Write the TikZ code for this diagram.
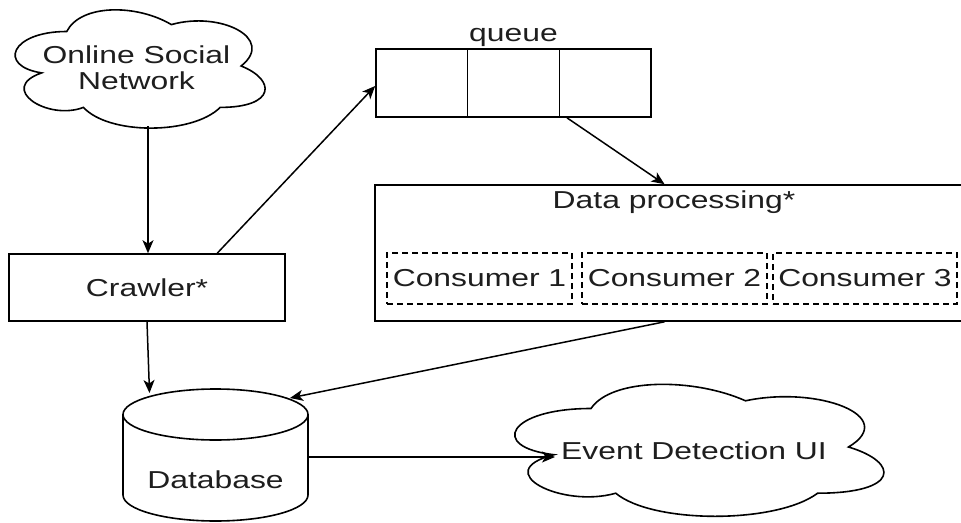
\documentclass[tikz,border=0pt]{standalone}
\usepackage{fontspec}
\setmainfont{Liberation Sans}[FakeStretch=1.3]
\usetikzlibrary{arrows.meta,calc}
\definecolor{ink}{HTML}{1E1E1E}

% draw.io style cloud outline in the unit square, scaled by the caller
\newcommand\cloudoutline{(0.25,0.25) .. controls (0.05,0.25) and (0,0.5) .. (0.16,0.55)
  .. controls (0,0.66) and (0.18,0.9) .. (0.31,0.8)
  .. controls (0.4,1) and (0.7,1) .. (0.8,0.8)
  .. controls (1,0.8) and (1,0.6) .. (0.875,0.5)
  .. controls (1,0.3) and (0.8,0.1) .. (0.625,0.2)
  .. controls (0.5,0.05) and (0.3,0.05) .. (0.25,0.25) -- cycle}

\begin{document}
\begin{tikzpicture}[x=1pt,y=-1pt,
  lbl/.style={font=\fontsize{24.5}{27}\selectfont, text=ink, inner sep=1pt},
  box/.style={draw=black, line width=1.6pt, fill=white, inner sep=0pt},
  cons/.style={lbl, draw=black, line width=1.3pt, dash pattern=on 6pt off 4pt,
    minimum height=51pt, inner sep=0pt},
  arr/.style={draw=black, line width=1.5pt,
    -{Stealth[length=13pt,width=11pt,inset=3.5pt]}},
  cloudline/.style={draw=black, line width=1.6pt, fill=white}]

\useasboundingbox (0,0) rectangle (961,522);
\clip (0,0) rectangle (961,522);

% ---- Online Social Network cloud
\draw[cloudline, shift={(-3,-3)}, xscale=279, yscale=138] \cloudoutline;
\node[lbl, anchor=base] (osn1) at (136.5,63) {Online Social};
\node[lbl, anchor=base] (osn2) at (136.5,89) {Network};
\coordinate (osnout) at (148,126);

% ---- Crawler
\node[box, lbl, minimum width=276pt, minimum height=67pt] (crawler) at (147,287.5) {Crawler*};

% ---- queue
\node[box, minimum width=91.7pt, minimum height=68pt] (q1) at (421.8,83) {};
\node[box, minimum width=91.7pt, minimum height=68pt] (q2) at (513.5,83) {};
\node[box, minimum width=91.7pt, minimum height=68pt] (q3) at (605.2,83) {};
\node[lbl, anchor=base] (qlabel) at (513.5,41) {queue};

% ---- Data processing
\node[box, minimum width=597pt, minimum height=136pt] (dp) at (673.5,253) {};
\node[lbl, anchor=base] (dplabel) at (674,208) {Data processing*};
\node[cons, minimum width=185pt] (c1) at (479.5,278.5) {Consumer 1};
\node[cons, minimum width=185pt] (c2) at (674.5,278.5) {Consumer 2};
\node[cons, minimum width=184pt] (c3) at (865,278.5) {Consumer 3};

% ---- Database cylinder
\draw[line width=1.6pt, fill=white] (123,414.5) -- (123,495)
  arc[start angle=180, end angle=0, x radius=92.5, y radius=26] -- (308,414.5);
\draw[line width=1.6pt, fill=white] (215.5,414.5) ellipse [x radius=92.5, y radius=25.5];
\node[lbl, anchor=base] (db) at (215.5,488) {Database};
\coordinate (dbin1) at (149.5,393);
\coordinate (dbin2) at (290,398);
\coordinate (dbout) at (308,457);

% ---- Event Detection UI cloud
\draw[cloudline, shift={(488,370)}, xscale=412, yscale=154] \cloudoutline;
\node[lbl, anchor=base] (evt) at (694,459) {Event Detection UI};
\coordinate (evtin) at (555,457);

% ---- connectors
\draw[arr] (osnout) -- (osnout |- crawler.north);
\draw[arr] ($(crawler.north west)!0.753!(crawler.north east)$) -- ([yshift=-3pt]q1.west);
\draw[arr] ($(q3.south west)!0.09!(q3.south east)$) -- ($(dp.north west)!0.485!(dp.north east)$);
\draw[arr] (crawler.south) -- (dbin1);
\draw[arr] ($(dp.south west)!0.485!(dp.south east)$) -- (dbin2);
\draw[arr] (dbout) -- (evtin);
\end{tikzpicture}
\end{document}
